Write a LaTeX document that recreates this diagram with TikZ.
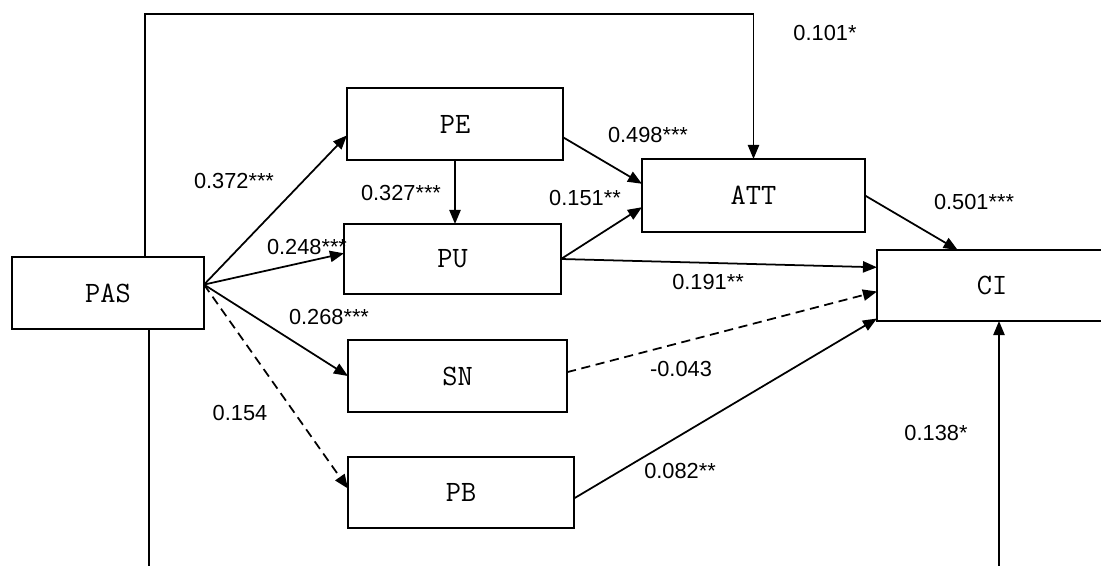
\documentclass[tikz,border=0pt]{standalone}
\usepackage{fontspec}
\setmainfont{Liberation Sans}
\usetikzlibrary{arrows.meta}

\begin{document}
\begin{tikzpicture}[x=0.025cm,y=-0.025cm,>={Triangle[length=10pt,width=8pt]},
  var/.style={draw,line width=1pt,inner sep=0pt,outer sep=0pt,minimum height=1.8cm,font=\fontsize{21}{23}\ttfamily},
  coef/.style={inner sep=0pt,font=\fontsize{15.5}{18}\selectfont},
  eff/.style={->,line width=1.25pt},
  nseff/.style={eff,dash pattern=on 6.5pt off 4pt}]
\clip (0,0) rectangle (1101,566);
\node[var,minimum width=4.8cm] (PAS) at (108,293) {PAS};
\node[var,minimum width=5.4cm] (PE) at (455,124) {PE};
\node[var,minimum width=5.425cm,minimum height=1.75cm] (PU) at (452.5,259) {PU};
\node[var,minimum width=5.475cm] (SN) at (457.5,376) {SN};
\node[var,minimum width=5.65cm,minimum height=1.775cm] (PB) at (461,492.5) {PB};
\node[var,minimum width=5.575cm,minimum height=1.825cm] (ATT) at (753.5,195.5) {ATT};
\node[var,minimum width=5.75cm,minimum height=1.775cm] (CI) at (992,285.5) {CI};
\coordinate (loopT) at (450,14);
\coordinate (loopB) at (0,570);

\draw[eff] (PAS.5) -- (PE.186);
\draw[eff] (PAS.5) -- (PU.177);
\draw[eff] (PAS.5) -- (SN.west);
\draw[nseff] (PAS.5) -- (PB.178);
\draw[eff] (PE.south) -- (PE.south |- PU.north);
\draw[eff] (PE.-7) -- (ATT.174);
\draw[eff] (PU.east) -- (ATT.186);
\draw[eff] (PU.east) -- (CI.171);
\draw[eff] (ATT.east) -- (CI.134);
\draw[nseff] (SN.2) -- (CI.183);
\draw[eff] (PB.-3) -- (CI.196);
\draw[eff] ([xshift=9.25mm]PAS.north) |- (loopT) -| (ATT.north);
\draw[line width=1.25pt] ([xshift=10.25mm]PAS.south) -- ([xshift=10.25mm]PAS.south |- loopB);
\draw[eff] ([xshift=1.75mm]CI.south |- loopB) -- ([xshift=1.75mm]CI.south);

\node[coef] (c1) at (234,181) {0.372***};
\node[coef] (c2) at (401,193) {0.327***};
\node[coef] (c3) at (307,247) {0.248***};
\node[coef] (c4) at (329,317) {0.268***};
\node[coef] (c5) at (240,413) {0.154};
\node[coef] (c6) at (648,135) {0.498***};
\node[coef] (c7) at (585,198) {0.151**};
\node[coef] (c8) at (825,33) {0.101*};
\node[coef] (c9) at (974,202) {0.501***};
\node[coef] (c10) at (708,282) {0.191**};
\node[coef] (c11) at (681,369) {-0.043};
\node[coef] (c12) at (680,471) {0.082**};
\node[coef] (c13) at (936,433) {0.138*};
\end{tikzpicture}
\end{document}
